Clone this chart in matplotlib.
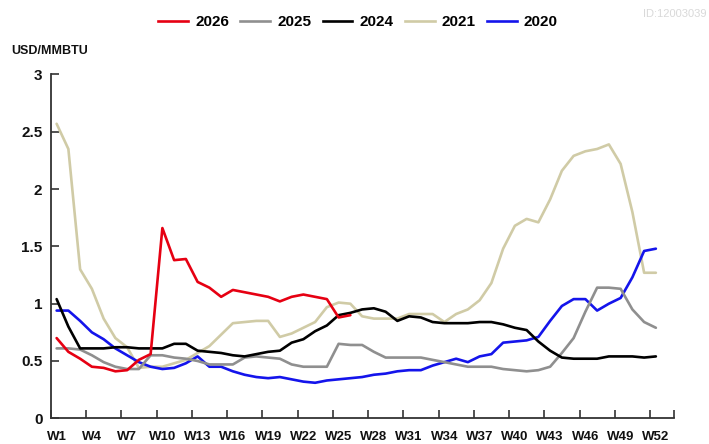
import matplotlib
matplotlib.use("Agg")
import matplotlib.pyplot as plt
from matplotlib import font_manager as fm
from matplotlib.lines import Line2D

# ---------------- data ----------------
tick_labels = ["W1", "W4", "W7", "W10", "W13", "W16", "W19", "W22", "W25",
               "W28", "W31", "W34", "W37", "W40", "W43", "W46", "W49", "W52"]
n_categories = 53  # W1 .. W53

series_names = ["2026", "2025", "2024", "2021", "2020"]

s2026 = [0.70, 0.58, 0.52, 0.45, 0.44, 0.41, 0.42, 0.51, 0.56, 1.66,
         1.38, 1.39, 1.19, 1.14, 1.06, 1.12, 1.10, 1.08, 1.06, 1.02,
         1.06, 1.08, 1.06, 1.04, 0.88, 0.90]

s2025 = [0.61, 0.61, 0.60, 0.55, 0.49, 0.45, 0.43, 0.43, 0.55, 0.55,
         0.53, 0.52, 0.50, 0.47, 0.47, 0.47, 0.53, 0.54, 0.53, 0.52,
         0.47, 0.45, 0.45, 0.45, 0.65, 0.64, 0.64, 0.58, 0.53, 0.53,
         0.53, 0.53, 0.51, 0.49, 0.47, 0.45, 0.45, 0.45, 0.43, 0.42,
         0.41, 0.42, 0.45, 0.57, 0.70, 0.93, 1.14, 1.14, 1.13, 0.95,
         0.84, 0.79]

s2024 = [1.04, 0.80, 0.61, 0.61, 0.61, 0.62, 0.62, 0.61, 0.61, 0.61,
         0.65, 0.65, 0.59, 0.58, 0.57, 0.55, 0.54, 0.56, 0.58, 0.59,
         0.66, 0.69, 0.76, 0.81, 0.90, 0.92, 0.95, 0.96, 0.93, 0.85,
         0.89, 0.88, 0.84, 0.83, 0.83, 0.83, 0.84, 0.84, 0.82, 0.79,
         0.77, 0.67, 0.59, 0.53, 0.52, 0.52, 0.52, 0.54, 0.54, 0.54,
         0.53, 0.54]

s2021 = [2.57, 2.35, 1.30, 1.13, 0.87, 0.70, 0.62, 0.44, 0.45, 0.45,
         0.48, 0.51, 0.57, 0.63, 0.73, 0.83, 0.84, 0.85, 0.85, 0.71,
         0.74, 0.79, 0.84, 0.97, 1.01, 1.00, 0.89, 0.87, 0.87, 0.87,
         0.91, 0.91, 0.91, 0.84, 0.91, 0.95, 1.03, 1.18, 1.48, 1.68,
         1.74, 1.71, 1.91, 2.16, 2.29, 2.33, 2.35, 2.39, 2.22, 1.80,
         1.27, 1.27]

s2020 = [0.94, 0.94, 0.85, 0.75, 0.69, 0.61, 0.55, 0.49, 0.45, 0.43,
         0.44, 0.48, 0.54, 0.45, 0.45, 0.41, 0.38, 0.36, 0.35, 0.36,
         0.34, 0.32, 0.31, 0.33, 0.34, 0.35, 0.36, 0.38, 0.39, 0.41,
         0.42, 0.42, 0.46, 0.49, 0.52, 0.49, 0.54, 0.56, 0.66, 0.67,
         0.68, 0.71, 0.85, 0.98, 1.04, 1.04, 0.94, 1.00, 1.05, 1.23,
         1.46, 1.48]

y_ticks = [0, 0.5, 1, 1.5, 2, 2.5, 3]
y_tick_labels = ["0", "0.5", "1", "1.5", "2", "2.5", "3"]

# ---------------- style ----------------
colors = {"2026": "#E60012", "2025": "#8F8F8F", "2024": "#000000",
          "2021": "#D0CBA6", "2020": "#1414EB"}
zorders = {"2026": 6, "2025": 4, "2024": 5, "2021": 2, "2020": 3}
values = {"2026": s2026, "2025": s2025, "2024": s2024,
          "2021": s2021, "2020": s2020}

avail = {f.name for f in fm.fontManager.ttflist}
BASE = "Liberation Sans" if "Liberation Sans" in avail else "DejaVu Sans"
if "Liberation Sans Narrow" in avail:
    XFONT, XSIZE = "Liberation Sans Narrow", 11.5
else:
    XFONT, XSIZE = BASE, 9.5

plt.rcParams["font.family"] = [BASE, "DejaVu Sans"]

W, H = 709, 444
fig = plt.figure(figsize=(W / 100, H / 100), dpi=100)
left, right, top, bottom = 50.75, 673.5, 74.5, 418.3
ax = fig.add_axes([left / W, 1 - bottom / H, (right - left) / W, (bottom - top) / H])

LW = 1.9
for name in series_names:
    vals = values[name]
    ax.plot(range(len(vals)), vals, color=colors[name], lw=LW,
            solid_capstyle="round", solid_joinstyle="round",
            zorder=zorders[name], clip_on=False)

ax.set_xlim(-0.5, n_categories - 0.5)
ax.set_ylim(0, 3)

for s in ("top", "right"):
    ax.spines[s].set_visible(False)
for s in ("left", "bottom"):
    ax.spines[s].set_color("#333333")
    ax.spines[s].set_linewidth(1.3)

ax.set_yticks(y_ticks)
ax.set_yticklabels(y_tick_labels, fontsize=11, fontweight="bold", color="#111111")
ax.tick_params(axis="y", direction="in", length=6, width=1.2, color="#333333", pad=6)

major = [-0.5 + 3 * k for k in range(18)] + [n_categories - 0.5]
ax.set_xticks(major)
ax.set_xticklabels([])
ax.tick_params(axis="x", which="major", direction="in", length=6, width=1.2,
               color="#333333")
ax.set_xticks([3 * k for k in range(len(tick_labels))], minor=True)
ax.set_xticklabels(tick_labels, minor=True, fontsize=XSIZE, fontweight="bold",
                   family=[XFONT, "DejaVu Sans"], color="#111111")
ax.tick_params(axis="x", which="minor", length=0, pad=9)

handles = [Line2D([0], [0], color=colors[n], lw=LW) for n in series_names]
fig.legend(handles, series_names, loc="center", bbox_to_anchor=(358 / W, 1 - 22 / H),
           ncol=5, frameon=False, handlelength=1.95, handletextpad=0.45,
           columnspacing=0.75, prop={"size": 11, "weight": "bold"})

fig.text(11 / W, 1 - 51 / H, "USD/MMBTU", ha="left", va="center",
         fontsize=9, fontweight="bold", color="#111111")
fig.text(706 / W, 1 - 14 / H, "ID:12003039", ha="right", va="center",
         fontsize=8, color="#D9D9D9")

fig.savefig("out.png", dpi=100)
